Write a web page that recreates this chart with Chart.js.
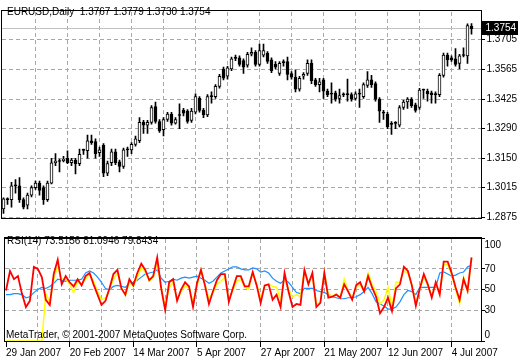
<!DOCTYPE html>
<html>
<head>
<meta charset="utf-8">
<title>EURUSD Daily</title>
<script src="https://cdn.jsdelivr.net/npm/chart.js@4.4.0/dist/chart.umd.min.js"></script>
<style>
  html, body { margin: 0; padding: 0; background: #fff; }
  #wrap { position: relative; width: 520px; height: 360px; overflow: hidden; }
  canvas { position: absolute; left: 0; }
  #price { top: 0; }
  #rsi { top: 229px; }
</style>
</head>
<body>
<div id="wrap">
  <canvas id="price" width="520" height="229"></canvas>
  <canvas id="rsi" width="520" height="131"></canvas>
</div>
<script>
// ---------------- values ----------------
const dateTicks = ['29 Jan 2007', '20 Feb 2007', '14 Mar 2007', '5 Apr 2007',
                   '27 Apr 2007', '21 May 2007', '12 Jun 2007', '4 Jul 2007'];
const tickStep = 16;   // bars between date labels
const gridStep = 8;    // bars between vertical grid lines
const barSlots = 120;  // 118 bars + chart shift on the right

const open = [
  1.2914, 1.2961, 1.2957, 1.3021, 1.3021, 1.2957, 1.2931, 1.2978, 1.3013, 1.3034,
  1.3013, 1.2957, 1.3034, 1.3129, 1.3135, 1.3139, 1.3150, 1.3129, 1.3142, 1.3125,
  1.3187, 1.3185, 1.3232, 1.3228, 1.3176, 1.3211, 1.3081, 1.3129, 1.3180, 1.3133,
  1.3112, 1.3189, 1.3189, 1.3215, 1.3232, 1.3318, 1.3305, 1.3318, 1.3391, 1.3322,
  1.3284, 1.3331, 1.3357, 1.3314, 1.3350, 1.3374, 1.3370, 1.3327, 1.3365, 1.3430,
  1.3374, 1.3352, 1.3438, 1.3438, 1.3486, 1.3567, 1.3533, 1.3567, 1.3617, 1.3619,
  1.3606, 1.3585, 1.3636, 1.3645, 1.3589, 1.3632, 1.3641, 1.3610, 1.3589, 1.3546,
  1.3597, 1.3602, 1.3546, 1.3529, 1.3473, 1.3533, 1.3546, 1.3593, 1.3516, 1.3494,
  1.3516, 1.3464, 1.3450, 1.3456, 1.3430, 1.3446, 1.3447, 1.3447, 1.3430, 1.3450,
  1.3438, 1.3490, 1.3516, 1.3499, 1.3426, 1.3362, 1.3357, 1.3308, 1.3313, 1.3305,
  1.3387, 1.3413, 1.3426, 1.3400, 1.3387, 1.3468, 1.3464, 1.3456, 1.3451, 1.3447,
  1.3537, 1.3632, 1.3619, 1.3615, 1.3593, 1.3630, 1.3628, 1.3767
];
const high = [
  1.2965, 1.2965, 1.3038, 1.3051, 1.3060, 1.2965, 1.2987, 1.3021, 1.3043, 1.3043,
  1.3021, 1.3043, 1.3150, 1.3172, 1.3146, 1.3159, 1.3185, 1.3150, 1.3150, 1.3193,
  1.3193, 1.3258, 1.3258, 1.3241, 1.3202, 1.3219, 1.3137, 1.3193, 1.3193, 1.3142,
  1.3198, 1.3202, 1.3223, 1.3254, 1.3340, 1.3327, 1.3327, 1.3396, 1.3413, 1.3331,
  1.3340, 1.3365, 1.3365, 1.3340, 1.3404, 1.3383, 1.3378, 1.3383, 1.3451, 1.3438,
  1.3383, 1.3447, 1.3460, 1.3494, 1.3542, 1.3576, 1.3580, 1.3623, 1.3632, 1.3628,
  1.3615, 1.3645, 1.3666, 1.3653, 1.3684, 1.3684, 1.3649, 1.3619, 1.3602, 1.3602,
  1.3610, 1.3623, 1.3555, 1.3563, 1.3533, 1.3550, 1.3610, 1.3610, 1.3524, 1.3524,
  1.3524, 1.3473, 1.3503, 1.3464, 1.3473, 1.3456, 1.3520, 1.3456, 1.3460, 1.3473,
  1.3503, 1.3555, 1.3537, 1.3507, 1.3434, 1.3374, 1.3365, 1.3322, 1.3322, 1.3396,
  1.3421, 1.3434, 1.3434, 1.3408, 1.3477, 1.3473, 1.3473, 1.3464, 1.3460, 1.3546,
  1.3641, 1.3641, 1.3628, 1.3662, 1.3636, 1.3666, 1.3778, 1.3779
];
const low = [
  1.2892, 1.2935, 1.2922, 1.2987, 1.2944, 1.2914, 1.2914, 1.2970, 1.3004, 1.2978,
  1.2935, 1.2948, 1.3030, 1.3116, 1.3086, 1.3133, 1.3125, 1.3116, 1.3077, 1.3116,
  1.3168, 1.3150, 1.3215, 1.3150, 1.3159, 1.3064, 1.3069, 1.3116, 1.3120, 1.3086,
  1.3103, 1.3159, 1.3172, 1.3206, 1.3223, 1.3266, 1.3266, 1.3309, 1.3314, 1.3271,
  1.3254, 1.3322, 1.3305, 1.3309, 1.3288, 1.3348, 1.3314, 1.3318, 1.3357, 1.3365,
  1.3340, 1.3344, 1.3408, 1.3430, 1.3477, 1.3516, 1.3520, 1.3559, 1.3606, 1.3580,
  1.3546, 1.3576, 1.3628, 1.3580, 1.3580, 1.3623, 1.3593, 1.3550, 1.3567, 1.3537,
  1.3580, 1.3516, 1.3520, 1.3460, 1.3464, 1.3520, 1.3537, 1.3499, 1.3486, 1.3460,
  1.3430, 1.3438, 1.3408, 1.3417, 1.3408, 1.3438, 1.3417, 1.3417, 1.3421, 1.3387,
  1.3430, 1.3481, 1.3481, 1.3417, 1.3318, 1.3331, 1.3288, 1.3262, 1.3288, 1.3297,
  1.3378, 1.3383, 1.3387, 1.3365, 1.3378, 1.3430, 1.3417, 1.3408, 1.3408, 1.3438,
  1.3529, 1.3580, 1.3602, 1.3580, 1.3567, 1.3623, 1.3593, 1.3730
];
const close = [
  1.2961, 1.2957, 1.3021, 1.3025, 1.2957, 1.2922, 1.2978, 1.3013, 1.3034, 1.3000,
  1.2957, 1.3034, 1.3129, 1.3137, 1.3139, 1.3146, 1.3129, 1.3142, 1.3125, 1.3168,
  1.3189, 1.3232, 1.3223, 1.3172, 1.3189, 1.3081, 1.3125, 1.3180, 1.3129, 1.3112,
  1.3189, 1.3191, 1.3215, 1.3241, 1.3318, 1.3305, 1.3318, 1.3387, 1.3322, 1.3279,
  1.3331, 1.3357, 1.3314, 1.3331, 1.3352, 1.3361, 1.3322, 1.3370, 1.3438, 1.3374,
  1.3352, 1.3438, 1.3440, 1.3486, 1.3533, 1.3524, 1.3572, 1.3615, 1.3619, 1.3589,
  1.3576, 1.3636, 1.3645, 1.3589, 1.3653, 1.3653, 1.3602, 1.3559, 1.3576, 1.3593,
  1.3598, 1.3542, 1.3529, 1.3473, 1.3524, 1.3542, 1.3593, 1.3512, 1.3494, 1.3507,
  1.3464, 1.3447, 1.3451, 1.3426, 1.3443, 1.3447, 1.3448, 1.3426, 1.3451, 1.3451,
  1.3494, 1.3516, 1.3494, 1.3426, 1.3370, 1.3361, 1.3297, 1.3309, 1.3314, 1.3387,
  1.3413, 1.3426, 1.3396, 1.3374, 1.3469, 1.3469, 1.3451, 1.3447, 1.3447, 1.3537,
  1.3632, 1.3610, 1.3610, 1.3589, 1.3628, 1.3632, 1.3770, 1.3754
];
const priceTicks = [1.2875, 1.3015, 1.3150, 1.3290, 1.3425, 1.3565, 1.3705];

const rsiRed = [
  49, 68, 60, 63, 46, 33, 39, 72, 70, 62,
  40, 35, 65, 79, 55, 63, 57, 53, 60, 54,
  63, 66, 55, 45, 35, 39, 51, 65, 69, 51,
  45, 60, 54, 66, 75, 69, 59, 63, 81, 51,
  30, 57, 60, 39, 50, 57, 53, 33, 56, 69,
  54, 36, 48, 59, 65, 65, 38, 51, 63, 63,
  53, 53, 67, 54, 37, 54, 55, 40, 45, 33,
  66, 48, 33, 36, 35, 69, 55, 66, 33, 37,
  66, 42, 43, 45, 42, 55, 48, 40, 54, 57,
  48, 63, 52, 43, 27, 33, 42, 29, 51, 55,
  72, 68, 54, 34, 51, 65, 55, 42, 57, 45,
  77, 77, 66, 52, 40, 60, 49, 81.1
];
const rsiYellow = [
  0, 0, 0, 0, 0, 0, 0, 0, 0, 0,
  46, 38, 60, 73, 60, 60, 55, 47, 58, 55,
  60, 65, 58, 48, 40, 42, 50, 60, 66, 52,
  44, 57, 53, 62, 71, 67, 58, 62, 75, 52,
  33, 52, 57, 40, 48, 53, 52, 38, 53, 69,
  55, 41, 47, 55, 58, 62, 40, 49, 58, 60,
  52, 50, 66, 55, 42, 53, 55, 53, 52, 40,
  62, 50, 43, 45, 43, 69, 57, 63, 36, 37,
  67, 45, 44, 46, 42, 60, 48, 42, 52, 55,
  48, 66, 55, 48, 36, 40, 52, 33, 57, 57,
  68, 66, 54, 37, 50, 62, 54, 44, 55, 47,
  74, 74, 64, 50, 36, 62, 48, 79.8
];
const rsiBlue = [
  45, 45, 46, 46, 45, 42, 43, 47, 50, 52,
  51, 53, 56, 60, 59, 58, 59, 59, 59, 60,
  66, 68, 66, 62, 57, 51, 50, 53, 54, 53,
  52, 56, 57, 59, 62, 65, 66, 67, 69, 61,
  57, 58, 60, 59, 61, 62, 61, 62, 63, 61,
  59, 56, 58, 62, 66, 68, 70, 72, 72, 70,
  69, 69, 71, 70, 67, 68, 66, 61, 58, 56,
  59, 57, 52, 47, 46, 51, 51, 51, 49, 48,
  47, 45, 43, 42, 41, 41, 42, 42, 43, 45,
  48, 52, 46, 38, 36, 34, 31, 31, 33, 38,
  45, 49, 48, 45, 52, 52, 52, 52, 52, 66,
  67, 65, 63, 64, 66, 67, 72, 73.5
];
const rsiTicks = [0, 30, 50, 70, 100];
const rsiLevels = [30, 50, 70];

// ---------------- styling ----------------
const FONT = '"Liberation Sans", Arial, sans-serif';
const FONT_PX = 10;
Chart.defaults.font.family = FONT;
Chart.defaults.font.size = FONT_PX;
Chart.defaults.color = '#000';

const gridGray = '#a8a8a8';
const DASH_ON = 4, DASH_OFF = 3;
const slots = Array.from({ length: barSlots }, (_, i) => i);

// dashes as small filled rects
function dashV(ctx, x, y0, y1) {
  for (let y = y0; y < y1; y += DASH_ON + DASH_OFF) ctx.fillRect(x, y, 1, Math.min(DASH_ON, y1 - y));
}
function dashH(ctx, y, x0, x1) {
  for (let x = x0; x < x1; x += DASH_ON + DASH_OFF) ctx.fillRect(x, y, Math.min(DASH_ON, x1 - x), 1);
}
// pixel column of a bar slot (centre of the category band)
function slotX(chart, i) {
  const a = chart.chartArea;
  return Math.floor(a.left + (i + 0.5) * (a.right - a.left) / barSlots);
}

// dashed grid under the marks, frame and tick marks
const framePlugin = {
  id: 'frame',
  afterDatasetsDraw(chart, args, opts) {
    const { ctx, chartArea: a, scales } = chart;
    const ys = scales.y;
    const L = Math.floor(a.left), R = Math.floor(a.right);
    const T = Math.round(a.top) - 1, B = Math.round(a.bottom);
    ctx.save();
    ctx.globalCompositeOperation = 'destination-over';
    ctx.fillStyle = gridGray;
    for (let i = gridStep; i < barSlots - 2; i += gridStep) dashV(ctx, slotX(chart, i), T + 2, B);
    (opts.levels || []).forEach(v => dashH(ctx, Math.floor(ys.getPixelForValue(v)), L + 1, R));
    ctx.restore();

    ctx.save();
    ctx.fillStyle = '#000';
    (opts.marks || []).forEach(v => ctx.fillRect(R, Math.floor(ys.getPixelForValue(v)), 4, 1));
    if (opts.dateMarks) {
      for (let i = 0; i < barSlots - 2; i += tickStep) ctx.fillRect(slotX(chart, i), B, 1, 6);
    }
    ctx.fillRect(L, T, R - L + 1, 1);
    ctx.fillRect(L, B, R - L + 1, 1);
    ctx.fillRect(L, T, 1, B - T + 1);
    ctx.fillRect(R, T, 1, B - T + 1);
    if (opts.double) ctx.fillRect(L, T + 1, R - L + 1, 1);
    ctx.restore();
  }
};

// free texts of a panel
const textPlugin = {
  id: 'texts',
  afterDraw(chart, args, opts) {
    const ctx = chart.ctx;
    ctx.save();
    ctx.font = FONT_PX + 'px ' + FONT;
    ctx.fillStyle = '#000';
    ctx.textBaseline = 'alphabetic';
    (opts.items || []).forEach(t => ctx.fillText(t.text, t.x, t.y));
    ctx.restore();
  }
};

// current price line and the black price box
const lastPrice = close[close.length - 1];
const pricePlugin = {
  id: 'lastPrice',
  beforeDatasetsDraw(chart) {
    const { ctx, chartArea: a } = chart;
    const y = Math.floor(chart.scales.y.getPixelForValue(lastPrice));
    ctx.save();
    ctx.fillStyle = '#c0c0c0';
    ctx.fillRect(Math.floor(a.left) + 1, y, Math.floor(a.right) - Math.floor(a.left) - 1, 1);
    ctx.restore();
  },
  afterDraw(chart) {
    const { ctx, chartArea: a } = chart;
    const y = Math.floor(chart.scales.y.getPixelForValue(lastPrice));
    ctx.save();
    ctx.fillStyle = '#000';
    ctx.fillRect(Math.floor(a.right) + 1, y - 7, 36, 14);
    ctx.fillStyle = '#fff';
    ctx.font = FONT_PX + 'px ' + FONT;
    ctx.textBaseline = 'middle';
    ctx.fillText(lastPrice.toFixed(4), a.right + 4, y + 0.5);
    ctx.restore();
  }
};

// rsi labels 100 and 0 sit inside the panel edges
const rsiEdgePlugin = {
  id: 'rsiEdges',
  afterDraw(chart) {
    const { ctx, chartArea: a } = chart;
    const ys = chart.scales.y;
    ctx.save();
    ctx.font = FONT_PX + 'px ' + FONT;
    ctx.fillStyle = '#000';
    ctx.textBaseline = 'middle';
    ctx.fillText('100', a.right + 3, ys.getPixelForValue(100) + 7.5);
    ctx.fillText('0', a.right + 3, ys.getPixelForValue(0) - 6);
    ctx.restore();
  }
};

// ---------------- price panel ----------------
const wicks = low.map((l, i) => [l, high[i]]);
const bodies = open.map((o, i) => [Math.min(o, close[i]), Math.max(o, close[i])]);
const bodyFill = open.map((o, i) => (close[i] - o > 0.0005 ? '#fff' : '#000'));

new Chart(document.getElementById('price'), {
  type: 'bar',
  data: {
    labels: slots,
    datasets: [
      { data: bodies, backgroundColor: bodyFill, borderColor: '#000', borderWidth: 1,
        borderSkipped: false, barThickness: 3, minBarLength: 1, grouped: false, order: 1 },
      { data: wicks, backgroundColor: '#000', borderWidth: 0,
        barThickness: 1, grouped: false, order: 2 }
    ]
  },
  options: {
    responsive: false,
    animation: false,
    devicePixelRatio: 1,
    events: [],
    layout: { padding: { left: 1.5, right: 0, top: 2, bottom: 2 } },
    plugins: {
      legend: { display: false },
      tooltip: { enabled: false },
      frame: { levels: priceTicks, marks: priceTicks },
      texts: { items: [{ text: 'EURUSD,Daily  1.3767 1.3779 1.3730 1.3754', x: 7, y: 15 }] }
    },
    scales: {
      x: {
        offset: true,
        grid: { display: false, drawTicks: false },
        border: { display: false },
        ticks: { display: false },
        afterFit: s => { s.height = 0; }
      },
      y: {
        position: 'right',
        min: 1.2871,
        max: 1.3838,
        afterBuildTicks: s => { s.ticks = priceTicks.map(v => ({ value: v })); },
        ticks: { crossAlign: 'near', padding: 5, callback: v => v.toFixed(4) },
        grid: { display: false, drawTicks: false },
        border: { display: false },
        afterFit: s => { s.width = 38.5; }
      }
    }
  },
  plugins: [framePlugin, pricePlugin, textPlugin]
});

// ---------------- rsi panel ----------------
new Chart(document.getElementById('rsi'), {
  type: 'line',
  data: {
    labels: slots,
    datasets: [
      { data: rsiRed, borderColor: '#ff0000', borderWidth: 1.8, order: 1 },
      { data: rsiYellow, borderColor: '#ffff00', borderWidth: 1.5, order: 2 },
      { data: rsiBlue, borderColor: '#1e90ff', borderWidth: 1.2, order: 3 }
    ]
  },
  options: {
    responsive: false,
    animation: false,
    devicePixelRatio: 1,
    events: [],
    elements: { point: { radius: 0 }, line: { tension: 0, fill: false } },
    layout: { padding: { left: 1.5, right: 0, top: 2, bottom: 0 } },
    plugins: {
      legend: { display: false },
      tooltip: { enabled: false },
      frame: { double: true, levels: rsiLevels, marks: rsiTicks, dateMarks: true },
      texts: { items: [
        { text: 'RSI(14) 73.5156 81.0946 79.8434', x: 7, y: 15 },
        { text: 'MetaTrader, \u00a9 2001-2007 MetaQuotes Software Corp.', x: 6, y: 109 }
      ] }
    },
    scales: {
      x: {
        offset: true,
        grid: { display: false, drawTicks: false },
        border: { display: false },
        ticks: {
          autoSkip: false, maxRotation: 0, minRotation: 0, align: 'start', padding: 6,
          callback: (v, i) => (i % tickStep === 0 ? (dateTicks[i / tickStep] || '') : '')
        },
        afterFit: s => { s.height = 19; }
      },
      y: {
        position: 'right',
        min: 0,
        max: 100,
        afterBuildTicks: s => { s.ticks = rsiTicks.map(v => ({ value: v })); },
        ticks: { crossAlign: 'near', padding: 3, callback: v => (v === 0 || v === 100 ? '' : String(v)) },
        grid: { display: false, drawTicks: false },
        border: { display: false },
        afterFit: s => { s.width = 38.5; }
      }
    }
  },
  plugins: [framePlugin, textPlugin, rsiEdgePlugin]
});
</script>
</body>
</html>
